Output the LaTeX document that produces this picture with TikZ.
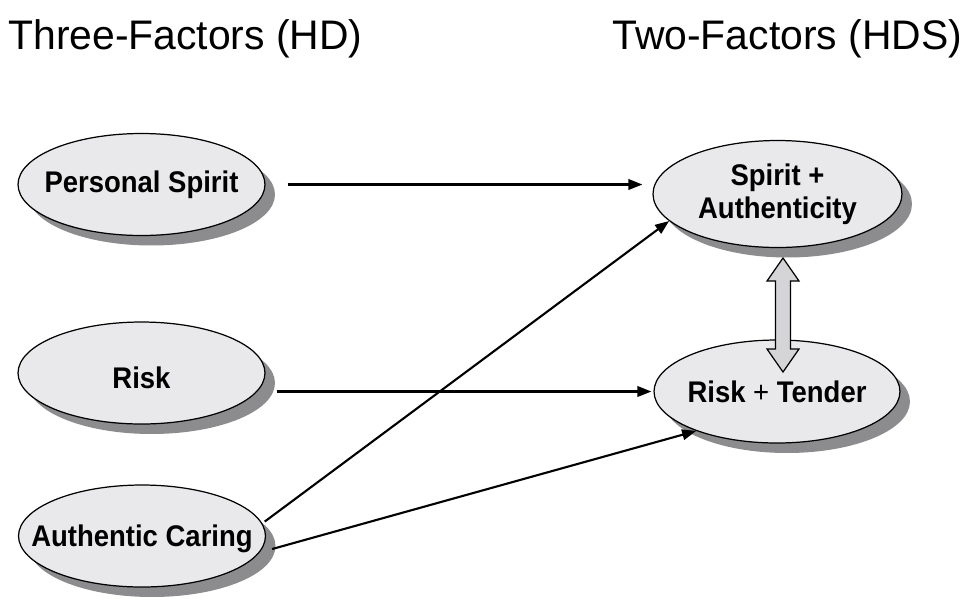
\documentclass[tikz,border=0pt]{standalone}
\usepackage{fontspec}
\setmainfont{Liberation Sans}[FakeStretch=0.92]
\newfontfamily\titlefont{Liberation Sans}[FakeStretch=0.99]
\usetikzlibrary{shapes.geometric, shadows, arrows.meta, calc}
\definecolor{factorfill}{RGB}{233,233,235}
\definecolor{shadowgray}{RGB}{140,140,142}
\definecolor{linkfill}{RGB}{213,213,215}
\tikzset{
factor/.style={ellipse, draw=black, line width=0.7pt, fill=factorfill,
  inner xsep=-0.6cm, inner ysep=0pt, minimum width=4.94cm, minimum height=2.04cm, align=center,
  font=\bfseries\fontsize{17}{19}\selectfont,
  drop shadow={shadow xshift=0.2cm, shadow yshift=-0.2cm, fill=shadowgray, opacity=1}},
heading/.style={anchor=base west, inner sep=0pt, font=\titlefont\fontsize{23.5}{27}\selectfont},
link/.style={line width=1.2pt, -{Triangle[length=8pt, width=6pt]}},
fatlink/.style={draw=black, line width=0.7pt, fill=linkfill, line join=miter}
}
\begin{document}
\begin{tikzpicture}[x=0.02cm, y=-0.02cm]
\useasboundingbox (0,0) rectangle (964,603);
\node[heading] (three) at (8,49) {Three-Factors (HD)};
\node[heading] (two) at (612,49) {Two-Factors (HDS)};
% three factors
\node[factor] (spirit) at (141.5,184.5) {Personal Spirit};
\node[factor, text height=0.63cm, text depth=0pt] (risk) at (141.5,373) {Risk};
\node[factor, text depth=0pt] (caring) at (142,536) {Authentic Caring};
% two factors
\node[factor, minimum width=4.98cm, minimum height=2.14cm] (spiritauth) at (777.5,194) {Spirit +\\Authenticity};
\node[factor, minimum width=4.92cm, minimum height=2.06cm] (risktender) at (777,391.5) {Risk {\mdseries +} Tender};
\draw[link, shorten <=0.44cm, shorten >=0.2cm] (spirit.east) -- (spirit.east -| spiritauth.west);
\draw[link, shorten <=0.22cm, shorten >=0.04cm] (risk.east |- risktender.west) -- (risktender.west);
\draw[link, shorten <=0.06cm] (caring.6) -- (spiritauth.194);
\draw[link, shorten <=0.26cm] (caring.-8) -- (risktender.206);
% correlation
\coordinate (top) at (783,258);
\coordinate (bot) at (783,372);
\draw[fatlink] (top) -- ++(16,23) -- ++(-8.5,0) -- ($(bot)+(7.5,-23)$) -- ++(8.5,0)
  -- (bot) -- ++(-16,-23) -- ++(8.5,0) -- ($(top)+(-7.5,23)$) -- ++(-8.5,0) -- cycle;
\end{tikzpicture}
\end{document}
